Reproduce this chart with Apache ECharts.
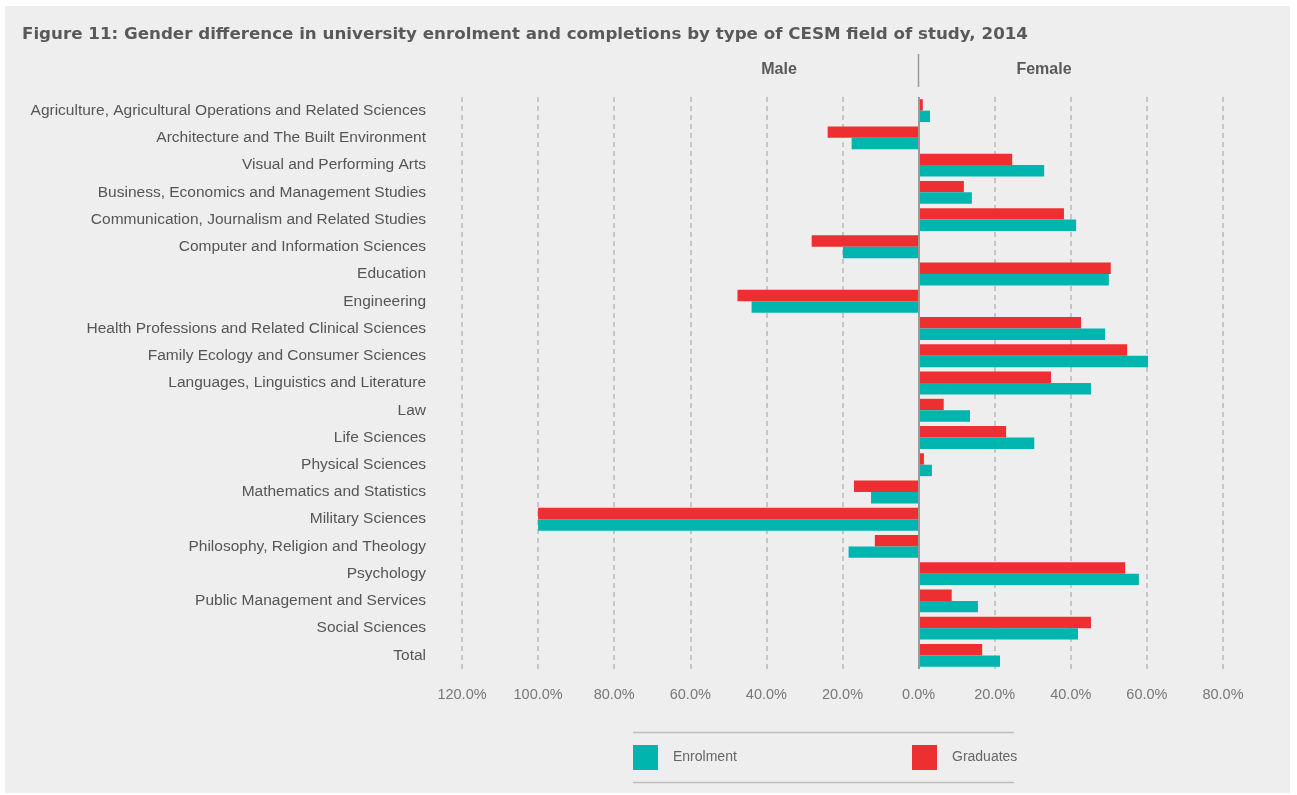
<!DOCTYPE html>
<html>
<head>
<meta charset="utf-8">
<script src="https://cdn.jsdelivr.net/npm/echarts@6/dist/echarts.min.js"></script>
<style>
html,body{margin:0;padding:0;background:#fff;}
#chart{width:1297px;height:795px;}
</style>
</head>
<body>
<div id="chart"></div>
<script>
const categories = [
  "Agriculture, Agricultural Operations and Related Sciences",
  "Architecture and The Built Environment",
  "Visual and Performing Arts",
  "Business, Economics and Management Studies",
  "Communication, Journalism and Related Studies",
  "Computer and Information Sciences",
  "Education",
  "Engineering",
  "Health Professions and Related Clinical Sciences",
  "Family Ecology and Consumer Sciences",
  "Languages, Linguistics and Literature",
  "Law",
  "Life Sciences",
  "Physical Sciences",
  "Mathematics and Statistics",
  "Military Sciences",
  "Philosophy, Religion and Theology",
  "Psychology",
  "Public Management and Services",
  "Social Sciences",
  "Total"
];
const enrolment = [3.0, -17.6, 33.0, 14.0, 41.4, -19.9, 50.0, -43.9, 49.0, 60.3, 45.3, 13.5, 30.4, 3.5, -12.5, -100.0, -18.4, 57.9, 15.6, 41.9, 21.4];
const graduates = [1.1, -23.9, 24.6, 11.9, 38.2, -28.1, 50.5, -47.6, 42.7, 54.8, 34.8, 6.6, 23.0, 1.4, -17.0, -100.0, -11.5, 54.3, 8.7, 45.3, 16.7];
const xTicks = {min: -120, max: 80, interval: 20};

const FONT = '"Liberation Sans", Arial, sans-serif';
const chart = echarts.init(document.getElementById('chart'));
chart.setOption({
  backgroundColor: '#ffffff',
  animation: false,
  textStyle: {fontFamily: FONT},
  graphic: [
    {type: 'rect', z: -10, shape: {x: 5, y: 6, width: 1285, height: 787}, style: {fill: '#eeeeee'}},
    {type: 'text', x: 22, y: 35, style: {text: 'Figure 11: Gender difference in university enrolment and completions by type of CESM field of study, 2014', font: 'bold 16.7px "DejaVu Sans", "Liberation Sans", Arial, sans-serif', fill: '#58595b', verticalAlign: 'middle'}},
    {type: 'text', x: 779, y: 70, style: {text: 'Male', font: 'bold 16px "Liberation Sans", Arial, sans-serif', fill: '#58595b', align: 'center', verticalAlign: 'middle'}},
    {type: 'text', x: 1044, y: 70, style: {text: 'Female', font: 'bold 16px "Liberation Sans", Arial, sans-serif', fill: '#58595b', align: 'center', verticalAlign: 'middle'}},
    {type: 'line', shape: {x1: 918.5, y1: 54, x2: 918.5, y2: 87}, style: {stroke: '#999999', lineWidth: 1.5}},
    {type: 'line', shape: {x1: 633, y1: 732.5, x2: 1014, y2: 732.5}, style: {stroke: '#bdbdbd', lineWidth: 1.5}},
    {type: 'line', shape: {x1: 633, y1: 782.5, x2: 1014, y2: 782.5}, style: {stroke: '#bdbdbd', lineWidth: 1.5}}
  ],
  legend: [
    {data: ['Enrolment'], left: 633, top: 745, padding: 0, itemWidth: 25, itemHeight: 25, icon: 'rect',
     textStyle: {color: '#666', fontSize: 14, fontFamily: FONT, padding: [0, 0, 0, 10]}},
    {data: ['Graduates'], left: 912, top: 745, padding: 0, itemWidth: 25, itemHeight: 25, icon: 'rect',
     textStyle: {color: '#666', fontSize: 14, fontFamily: FONT, padding: [0, 0, 0, 10]}}
  ],
  grid: {left: 462, right: 74, top: 97, bottom: 126},
  xAxis: {
    type: 'value', min: xTicks.min, max: xTicks.max, interval: xTicks.interval,
    axisLine: {show: false}, axisTick: {show: false},
    axisLabel: {color: '#777', fontSize: 14.5, fontFamily: FONT, margin: 18,
      formatter: v => Math.abs(v).toFixed(1) + '%'},
    splitLine: {show: true, lineStyle: {color: '#c6c6c6', width: 2, type: [5, 4]}}
  },
  yAxis: {
    type: 'category', inverse: true, data: categories,
    axisLine: {show: false}, axisTick: {show: false},
    axisLabel: {color: '#555', fontSize: 15.5, fontFamily: FONT, margin: 36},
    splitLine: {show: false}
  },
  series: [
    {name: 'Graduates', type: 'bar', data: graduates, barGap: '0%', barCategoryGap: '16%',
     itemStyle: {color: '#ee2f32'},
     markLine: {silent: true, symbol: 'none', label: {show: false},
       lineStyle: {color: '#999999', type: 'solid', width: 2}, data: [{xAxis: 0}]}},
    {name: 'Enrolment', type: 'bar', data: enrolment, barGap: '0%', barCategoryGap: '16%',
     itemStyle: {color: '#00b5ad'}}
  ]
});
</script>
</body>
</html>
